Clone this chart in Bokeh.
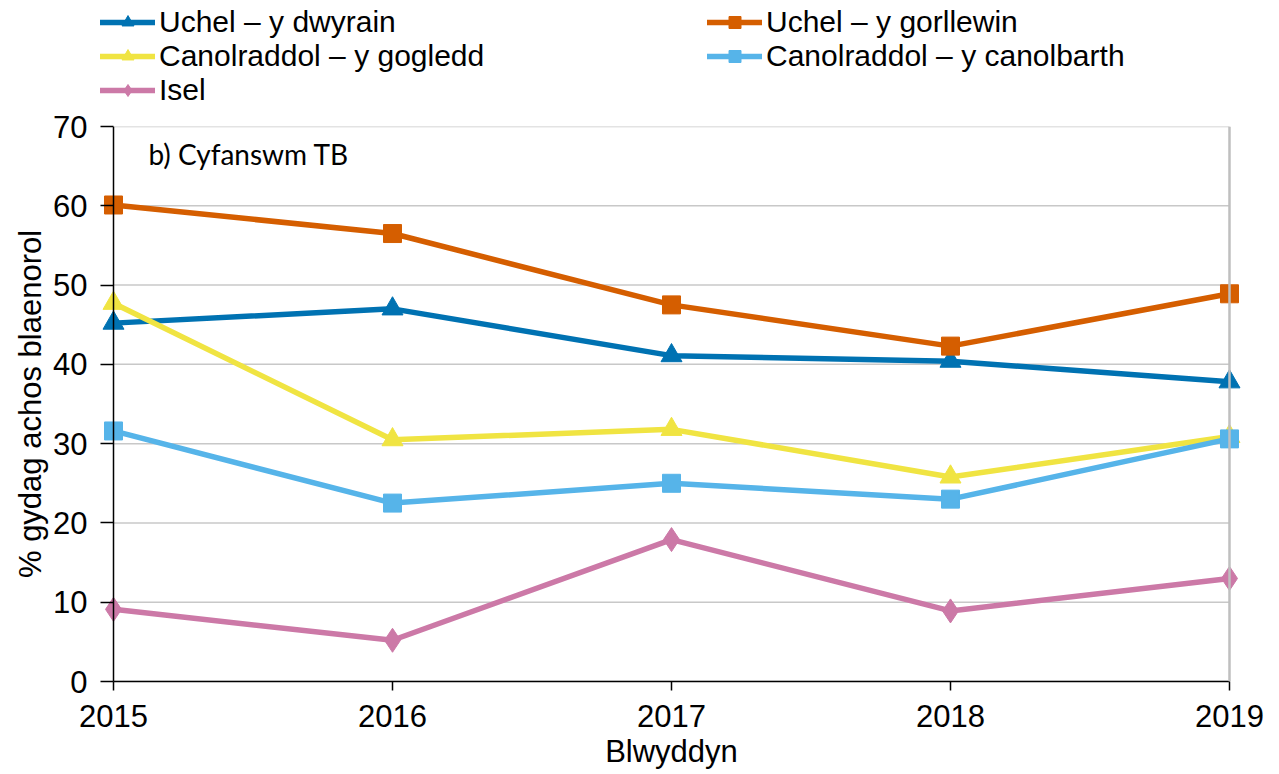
from bokeh.plotting import figure
from bokeh.models import Legend, LegendItem, Label, FixedTicker, Range1d, Span
from bokeh.layouts import column
from bokeh.embed import file_html
from bokeh.resources import INLINE

years = [2015, 2016, 2017, 2018, 2019]
uchel_dwyrain = [45.2, 47.0, 41.1, 40.4, 37.8]
uchel_gorllewin = [60.1, 56.5, 47.5, 42.3, 48.9]
canol_gogledd = [47.7, 30.5, 31.8, 25.8, 30.9]
canol_canolbarth = [31.6, 22.5, 25.0, 23.0, 30.6]
isel = [9.1, 5.2, 17.9, 8.9, 13.0]

labels = ["Uchel – y dwyrain", "Uchel – y gorllewin", "Canolraddol – y gogledd",
          "Canolraddol – y canolbarth", "Isel"]
y_ticks = [0, 10, 20, 30, 40, 50, 60, 70]

FONT = "Liberation Sans"
LEG_H = 106
PAD = 0.0466  # small x padding so the end markers are not clipped

series = [
    (uchel_dwyrain, "#0072B2", "triangle", 21),
    (uchel_gorllewin, "#D55E00", "square", 18),
    (canol_gogledd, "#F0E442", "triangle", 21),
    (canol_canolbarth, "#56B4E9", "square", 18),
    (isel, "#CC79A7", "diamond", 24),
]

# legend figure (top strip); its renderers sit outside its ranges, only the legend shows
lf = figure(width=1279, height=LEG_H, output_backend="svg", toolbar_location=None,
            x_range=Range1d(0, 1), y_range=Range1d(0, 1),
            x_axis_location=None, y_axis_location=None,
            min_border=0, min_border_left=0, min_border_right=0,
            min_border_top=0, min_border_bottom=0)
lf.outline_line_color = None
lf.xgrid.grid_line_color = None
lf.ygrid.grid_line_color = None

items = []
for (vals, col, mk, sz), lab in zip(series, labels):
    l = lf.line(years, vals, line_color=col, line_width=5.5, line_cap="round")
    s = lf.scatter(years, vals, marker=mk, size=sz, fill_color=col, line_color=col)
    items.append(LegendItem(label=lab, renderers=[l, s]))

legend = Legend(items=items, orientation="horizontal", ncols=2,
                location=(0, -1), glyph_width=55, glyph_height=30,
                label_height=30, label_standoff=4, spacing=0, padding=0, margin=0,
                label_width=548, label_text_font=FONT, label_text_font_size="30px",
                label_text_color="#000000", background_fill_alpha=0,
                border_line_color=None)
lf.add_layout(legend, "center")

# main chart
p = figure(width=1279, height=774 - LEG_H, output_backend="svg", toolbar_location=None,
           x_range=Range1d(years[0] - PAD, years[-1] + PAD), y_range=Range1d(0, 70),
           min_border_left=100, min_border_right=37, min_border_top=126 - LEG_H,
           min_border_bottom=93)

# horizontal grid lines between the first and last year
p.segment(x0=[years[0]] * len(y_ticks), x1=[years[-1]] * len(y_ticks),
          y0=y_ticks, y1=y_ticks, line_color="#C8C8C8", line_width=1.5)
p.add_layout(Span(location=years[-1], dimension="height", line_color="#BFBFBF",
                  line_width=2.5))
p.add_layout(Span(location=years[0], dimension="height", line_color="#000000",
                  line_width=1.5))

for (vals, col, mk, sz), lab in zip(series, labels):
    p.line(years, vals, line_color=col, line_width=5.5, line_join="round")
    p.scatter(years, vals, marker=mk, size=sz, fill_color=col, line_color=col)

p.xaxis.ticker = FixedTicker(ticks=years)
p.yaxis.ticker = FixedTicker(ticks=y_ticks)
p.xaxis.bounds = (years[0], years[-1])
p.xgrid.grid_line_color = None
p.ygrid.grid_line_color = None
p.outline_line_color = None

for ax in (p.xaxis, p.yaxis):
    ax.axis_line_color = "#000000"
    ax.axis_line_width = 1.5
    ax.major_tick_line_color = "#000000"
    ax.major_tick_line_width = 1.5
    ax.major_tick_out = 9
    ax.major_tick_in = 0
    ax.minor_tick_line_color = None
    ax.major_label_text_font = FONT
    ax.major_label_text_font_size = "31px"
    ax.major_label_text_color = "#000000"
    ax.axis_label_text_font = FONT
    ax.axis_label_text_font_size = "31px"
    ax.axis_label_text_font_style = "normal"
    ax.axis_label_text_color = "#000000"

# y axis: its line is the Span at the first year; ticks reach from the frame edge to it
p.yaxis.axis_line_color = None
p.yaxis.major_tick_out = 0
p.yaxis.major_tick_in = 13

p.xaxis.axis_label = "Blwyddyn"
p.yaxis.axis_label = "% gydag achos blaenorol"
p.xaxis.major_label_standoff = 14
p.yaxis.major_label_standoff = 13
p.xaxis.axis_label_standoff = 4
p.yaxis.axis_label_standoff = 2

p.add_layout(Label(x=48, y=528, x_units="screen", y_units="screen",
                   text="b) Cyfanswm TB", text_font="Lato",
                   text_font_size="28px", text_color="#000000", text_baseline="middle"))

layout = column(lf, p, spacing=0)
open("out.html", "w").write(file_html(layout, INLINE))
